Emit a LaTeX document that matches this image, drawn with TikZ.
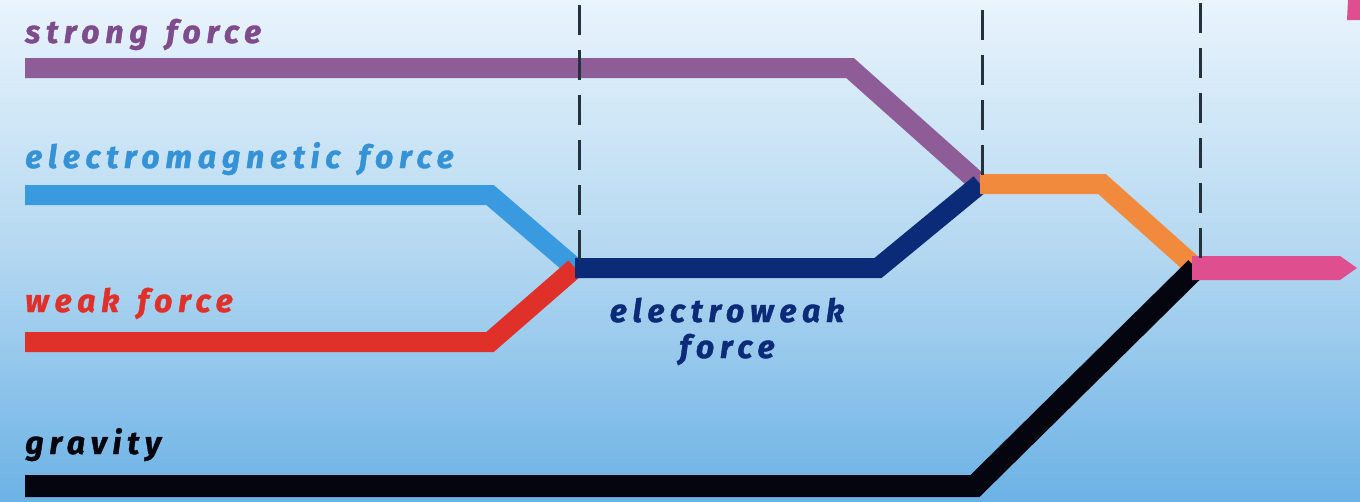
\documentclass[tikz,border=0pt]{standalone}
\usepackage{fontspec}
\usetikzlibrary{calc}
\setmainfont{Fira Sans}
\newfontfamily\labelfont[LetterSpace=18, WordSpace=1.4, FakeBold=1.2]{Fira Sans}
\definecolor{bgtop}{HTML}{E9F4FC}
\definecolor{bgmid}{HTML}{B4D8F1}
\definecolor{bgbot}{HTML}{6CB2E5}
\definecolor{strongc}{HTML}{8E5C97}
\definecolor{strongt}{HTML}{7E4C8C}
\definecolor{emc}{HTML}{3A9AE0}
\definecolor{emt}{HTML}{3592D6}
\definecolor{weakc}{HTML}{E0302A}
\definecolor{ewc}{HTML}{0B2A78}
\definecolor{gutc}{HTML}{F28A3E}
\definecolor{toec}{HTML}{DF4E8E}
\definecolor{gravc}{HTML}{05050F}
\definecolor{dashc}{HTML}{25313C}
\tikzset{
  band/.style={line width=20pt, line join=miter, line cap=butt},
  epoch/.style={dashc, line width=3pt, dash pattern=on 30pt off 15pt},
  forcelabel/.style={anchor=base west, inner sep=0pt,
    font=\labelfont\bfseries\itshape\fontsize{32}{36}\selectfont},
}
\begin{document}
\begin{tikzpicture}[x=1pt, y=-1pt]
  % background
  \useasboundingbox (0,0) rectangle (1360,501);
  \shade[top color=bgtop, bottom color=bgbot, middle color=bgmid] (0,0) rectangle (1360,501);

  % junction points
  \coordinate (ew) at (575,268);
  \coordinate (gut) at (980,184);
  \coordinate (toe) at (1196,268);

  % strong force
  \coordinate (s0) at (25,68);
  \coordinate (s1) at (850,68);
  \draw[band, strongc] (s0) -- (s1) -- (gut);
  % electromagnetic force
  \coordinate (e0) at (25,195);
  \coordinate (e1) at (490,195);
  \draw[band, emc] (e0) -- (e1) -- (ew);
  % weak force
  \coordinate (w0) at (25,342);
  \coordinate (w1) at (490,342);
  \draw[band, weakc] (w0) -- (w1) -- (ew);
  % electroweak force
  \coordinate (ew1) at (878,268);
  \draw[band, ewc] (ew) -- (ew1) -- (gut);
  % grand unified force
  \coordinate (g1) at (1102,184);
  \draw[band, gutc] (gut) -- (g1) -- (toe);
  % gravity
  \coordinate (gr0) at (25,486);
  \coordinate (gr1) at (975,486);
  \draw[band, gravc, line width=22pt] (gr0) -- (gr1) -- (toe);
  % unified force, pointed end
  \coordinate (tip) at (1357,268);
  \fill[toec] ($(toe)+(-4,-12)$) -- (1340,256) -- (tip) -- (1340,280) -- ($(toe)+(-4,12)$) -- cycle;
  % cut-off mark at the top right
  \fill[toec] (1348,0) -- (1360,0) -- (1360,20) -- (1347,20) -- cycle;

  % epoch boundaries
  \coordinate (d1) at (579,5);
  \coordinate (d2) at (982,10);
  \coordinate (d3) at (1200,3);
  \draw[epoch] (d1) -- (d1 |- ew);
  \draw[epoch] (d2) -- (d2 |- gut);
  \draw[epoch] (d3) -- (d3 |- toe);

  % labels
  \node[forcelabel, text=strongt] (ls) at (25,43) {strong force};
  \node[forcelabel, text=emt] (le) at (25,168) {electromagnetic force};
  \node[forcelabel, text=weakc] (lw) at (25,312) {weak force};
  \node[forcelabel, text=gravc] (lg) at (25,454) {gravity};
  \node[forcelabel, anchor=base, align=center, text=ewc]
    (lew) at (727,358) {electroweak\\force};
\end{tikzpicture}
\end{document}
